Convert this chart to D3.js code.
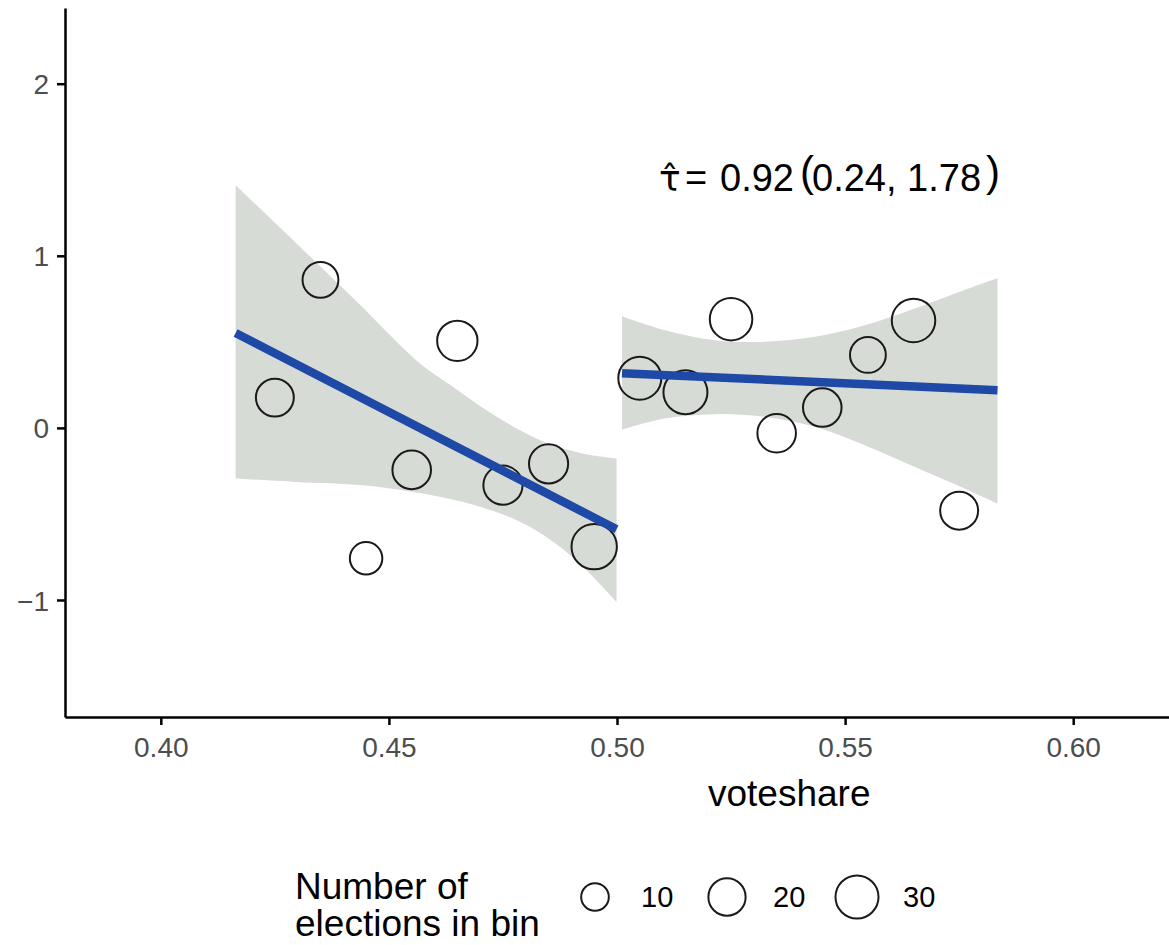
<!DOCTYPE html>
<html>
<head>
<meta charset="utf-8">
<script src="https://cdn.jsdelivr.net/npm/d3@7"></script>
<style>
  html, body { margin: 0; padding: 0; background: #ffffff; }
  svg { display: block; font-family: "Liberation Sans", Arial, Helvetica, sans-serif; }
</style>
</head>
<body>
<svg id="chart" width="1169" height="945"></svg>
<script>
// ---- data ----
const binMid   = [0.425, 0.435, 0.445, 0.455, 0.465, 0.475, 0.485, 0.495,
                  0.505, 0.515, 0.525, 0.535, 0.545, 0.555, 0.565, 0.575];
const binMean  = [0.176, 0.860, -0.758, -0.244, 0.506, -0.333, -0.209, -0.690,
                  0.289, 0.207, 0.632, -0.031, 0.118, 0.424, 0.624, -0.481];
const binCount = [21, 18, 14, 22, 25, 23, 23, 35,
                  30, 32, 29, 22, 22, 18, 31, 21];

const leftFitX  = [0.4164, 0.4999];
const leftFitY  = [0.551, -0.589];
const rightFitX = [0.5011, 0.5834];
const rightFitY = [0.318, 0.219];

const leftUpperX = [0.4164, 0.4305, 0.4436, 0.4568, 0.4641, 0.4714, 0.4787, 0.4860, 0.4933, 0.4999];
const leftUpperY = [1.410, 1.053, 0.717, 0.374, 0.238, 0.103, -0.013, -0.101, -0.153, -0.178];
const leftLowerX = [0.4164, 0.4297, 0.4443, 0.4553, 0.4663, 0.4772, 0.4845, 0.4918, 0.4999];
const leftLowerY = [-0.294, -0.314, -0.333, -0.372, -0.430, -0.527, -0.634, -0.788, -1.012];

const rightBandX     = [0.5011, 0.5105, 0.5214, 0.5324, 0.5434, 0.5543, 0.5653, 0.5762, 0.5834];
const rightBandUpper = [0.649, 0.568, 0.510, 0.500, 0.529, 0.597, 0.694, 0.801, 0.869];
const rightBandLower = [-0.009, 0.055, 0.080, 0.064, 0.006, -0.101, -0.227, -0.352, -0.440];

const xTicks = [0.40, 0.45, 0.50, 0.55, 0.60];
const yTicks = [-1, 0, 1, 2];
const legendCounts = [10, 20, 30];

const xTitle = "voteshare";
const legendTitle = ["Number of", "elections in bin"];
const estSymbol = "\u03C4\u0302";
const estLabel = "0.92";
const ciLabel = "0.24, 1.78";

// ---- layout ----
const svg = d3.select("#chart");
const plot = { left: 65, right: 1169, top: 8, bottom: 717 };

const x = d3.scaleLinear().domain([0.379, 0.621]).range([plot.left, plot.right]);
const y = d3.scaleLinear().domain([-1.68, 2.44]).range([plot.bottom, plot.top]);
const sizeFloor = 8;
const rBase = d3.scaleSqrt().domain([0, 24]).range([10.5, 22]);
const rSize = n => rBase(Math.max(0, n - sizeFloor));

const bandColor = "#d7dbd6";
const lineColor = "#1f49a6";

// ---- confidence bands ----
const curve = d3.curveCatmullRom.alpha(0.5);
const edgeLine = d3.line().x(d => x(d[0])).y(d => y(d[1])).curve(curve);
const leftUpperPts = leftUpperX.map((v, i) => [v, leftUpperY[i]]);
const leftLowerPts = leftLowerX.map((v, i) => [v, leftLowerY[i]]);
const upPath = edgeLine(leftUpperPts);
const lowPath = edgeLine(leftLowerPts.slice().reverse());
svg.append("path")
  .attr("d", upPath + "L" + lowPath.slice(1) + "Z")
  .attr("fill", bandColor);

const rightArea = d3.area()
  .x((d, i) => x(rightBandX[i]))
  .y0((d, i) => y(rightBandLower[i]))
  .y1((d, i) => y(rightBandUpper[i]))
  .curve(curve);
svg.append("path")
  .attr("d", rightArea(rightBandX))
  .attr("fill", bandColor);

// ---- points ----
svg.append("g").selectAll("circle")
  .data(binMid.map((m, i) => ({ m, v: binMean[i], n: binCount[i] })))
  .join("circle")
  .attr("cx", d => x(d.m))
  .attr("cy", d => y(d.v))
  .attr("r", d => rSize(d.n))
  .attr("fill", "none")
  .attr("stroke", "#1a1a1a")
  .attr("stroke-width", 2);

// ---- fit lines ----
const fitLine = d3.line().x(d => x(d[0])).y(d => y(d[1]));
svg.append("path")
  .attr("d", fitLine(leftFitX.map((v, i) => [v, leftFitY[i]])))
  .attr("stroke", lineColor).attr("stroke-width", 8.5).attr("fill", "none");
svg.append("path")
  .attr("d", fitLine(rightFitX.map((v, i) => [v, rightFitY[i]])))
  .attr("stroke", lineColor).attr("stroke-width", 8.5).attr("fill", "none");

// ---- axes ----
const xAxis = svg.append("g")
  .attr("transform", `translate(0,${plot.bottom})`)
  .call(d3.axisBottom(x).tickValues(xTicks).tickFormat(d3.format(".2f")).tickSize(8).tickSizeOuter(0).tickPadding(12));
const yAxis = svg.append("g")
  .attr("transform", `translate(${plot.left},0)`)
  .call(d3.axisLeft(y).tickValues(yTicks).tickFormat(d => d < 0 ? "\u2212" + Math.abs(d) : d).tickSize(8).tickSizeOuter(0).tickPadding(8));
[xAxis, yAxis].forEach(g => {
  g.select(".domain").attr("stroke", "#000").attr("stroke-width", 2.5);
  g.selectAll(".tick line").attr("stroke", "#000").attr("stroke-width", 2.5);
  g.selectAll(".tick text")
    .attr("fill", "#4d4d4d")
    .style("font-size", "28px")
    .style("font-family", "'Liberation Sans', Arial, sans-serif");
});
xAxis.selectAll(".tick text").attr("dy", "0.71em");
yAxis.selectAll(".tick text").attr("dy", "0.36em");

// ---- x title ----
svg.append("text")
  .attr("x", 708).attr("y", 806)
  .attr("fill", "#000")
  .style("font-size", "37px")
  .text(xTitle);

// ---- annotation (single text element with positioned pieces) ----
const ann = svg.append("text").attr("fill", "#000").attr("y", 191).style("font-size", "38px");
ann.append("tspan").attr("x", 659).attr("y", 191)
  .style("font-size", "36px").style("font-family", "'DejaVu Sans', sans-serif").text(estSymbol);
ann.append("tspan").attr("x", 685).attr("y", 191).style("font-size", "38px").text("=");
ann.append("tspan").attr("x", 720).attr("y", 191).style("font-size", "38px").text(estLabel);
ann.append("tspan").attr("x", 800).attr("y", 186).style("font-size", "42px").text("(");
ann.append("tspan").attr("x", 812).attr("y", 191).style("font-size", "38px").text(ciLabel);
ann.append("tspan").attr("x", 986).attr("y", 186).style("font-size", "42px").text(")");

// ---- legend ----
const leg = svg.append("g");
leg.selectAll("text.title")
  .data(legendTitle)
  .join("text")
  .attr("class", "title")
  .attr("x", 295)
  .attr("y", (d, i) => 899 + i * 37)
  .attr("fill", "#000")
  .style("font-size", "37px")
  .text(d => d);

const keyX = [595, 727, 857];
legendCounts.forEach((n, i) => {
  leg.append("circle")
    .attr("cx", keyX[i]).attr("cy", 897)
    .attr("r", rSize(n))
    .attr("fill", "none").attr("stroke", "#1a1a1a").attr("stroke-width", 2);
  leg.append("text")
    .attr("x", keyX[i] + 46).attr("y", 907)
    .attr("fill", "#000")
    .style("font-size", "29px")
    .text(n);
});
</script>
</body>
</html>
